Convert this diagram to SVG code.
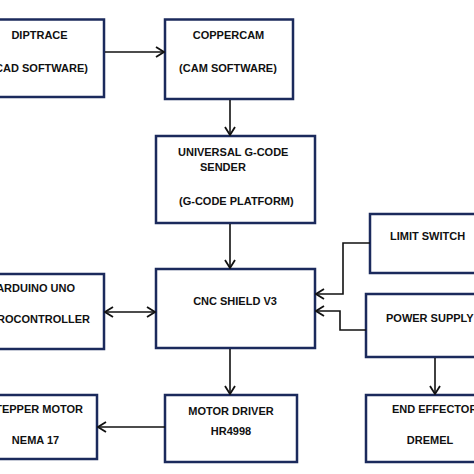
<svg xmlns="http://www.w3.org/2000/svg" width="474" height="474" viewBox="0 0 474 474">
<style>
.box{fill:#fff;stroke:#1b2a5c;stroke-width:2.5}
.t{font-family:"Liberation Sans",Arial,sans-serif;font-weight:bold;font-size:11px;fill:#111}
.c{text-anchor:middle}
.e{text-anchor:end}
.ln{fill:none;stroke:#111;stroke-width:1.6}
</style>
<defs>
<marker id="ah" viewBox="0 0 10 12" refX="9" refY="6" markerWidth="10" markerHeight="12" markerUnits="userSpaceOnUse" orient="auto-start-reverse">
<path d="M1,1 L9,6 L1,11" fill="none" stroke="#111" stroke-width="1.8"/>
</marker>
</defs>
<rect width="474" height="474" fill="#fff"/>
<g id="diptrace"><rect class="box" x="-25" y="19.5" width="129" height="77.5"/>
<text class="t c" x="39.5" y="39">DIPTRACE</text><text class="t e" x="88" y="72">(CAD SOFTWARE)</text></g>
<g id="coppercam"><rect class="box" x="165" y="19.5" width="128" height="79.5"/>
<text class="t c" x="228.5" y="39">COPPERCAM</text><text class="t c" x="228" y="72">(CAM SOFTWARE)</text></g>
<g id="ugs"><rect class="box" x="156" y="136" width="159" height="87"/>
<text class="t" x="178" y="156">UNIVERSAL G-CODE</text><text class="t" x="200" y="171">SENDER</text><text class="t" x="179" y="205">(G-CODE PLATFORM)</text></g>
<g id="cnc"><rect class="box" x="156" y="269" width="159" height="79"/>
<text class="t c" x="235" y="305">CNC SHIELD V3</text></g>
<g id="arduino"><rect class="box" x="-25" y="274" width="129" height="75"/>
<text class="t e" x="75" y="292">ARDUINO UNO</text><text class="t e" x="90" y="323">MICROCONTROLLER</text></g>
<g id="limit"><rect class="box" x="370" y="214" width="120" height="59"/>
<text class="t" x="390" y="240">LIMIT SWITCH</text></g>
<g id="power"><rect class="box" x="366" y="294" width="124" height="63"/>
<text class="t" x="386" y="322">POWER SUPPLY</text></g>
<g id="stepper"><rect class="box" x="-30" y="395" width="127" height="64"/>
<text class="t e" x="83" y="413">STEPPER MOTOR</text><text class="t c" x="35.5" y="444">NEMA 17</text></g>
<g id="driver"><rect class="box" x="165" y="395" width="132" height="67"/>
<text class="t c" x="231" y="415">MOTOR DRIVER</text><text class="t c" x="231" y="435">HR4998</text></g>
<g id="effector"><rect class="box" x="366" y="395" width="124" height="67"/>
<text class="t" x="392" y="413">END EFFECTOR</text><text class="t c" x="430" y="444">DREMEL</text></g>
<g id="connectors">
<line class="ln" x1="105" y1="52" x2="164" y2="52" marker-end="url(#ah)"/>
<line class="ln" x1="230" y1="100" x2="230" y2="135" marker-end="url(#ah)"/>
<line class="ln" x1="230" y1="224" x2="230" y2="268" marker-end="url(#ah)"/>
<line class="ln" x1="105" y1="312" x2="155" y2="312" marker-start="url(#ah)" marker-end="url(#ah)"/>
<polyline class="ln" points="370,243 343,243 343,294 316,294" marker-end="url(#ah)"/>
<polyline class="ln" points="366,330 340,330 340,311 316,311" marker-end="url(#ah)"/>
<line class="ln" x1="230" y1="349" x2="230" y2="394" marker-end="url(#ah)"/>
<line class="ln" x1="165" y1="427" x2="98" y2="427" marker-end="url(#ah)"/>
<line class="ln" x1="435" y1="358" x2="435" y2="394" marker-end="url(#ah)"/>
</g>
</svg>
